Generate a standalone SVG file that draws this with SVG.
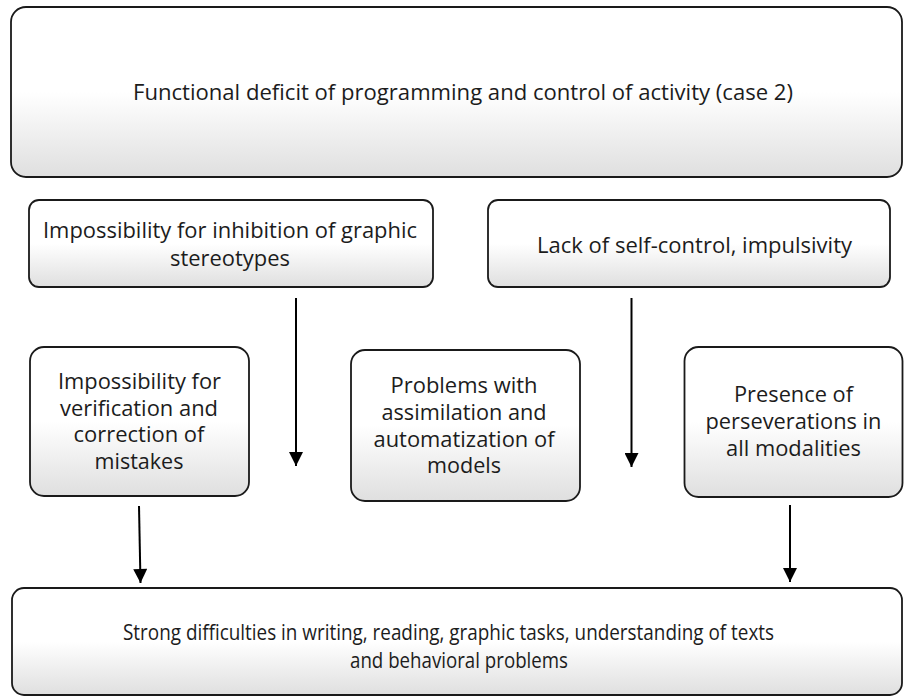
<svg xmlns="http://www.w3.org/2000/svg" width="904" height="698" viewBox="0 0 904 698">
  <defs>
    <linearGradient id="boxFill" x1="0" y1="0" x2="0" y2="1">
      <stop offset="0" stop-color="#ffffff"/>
      <stop offset="0.5" stop-color="#ffffff"/>
      <stop offset="1" stop-color="#dfdfdf"/>
    </linearGradient>
    <marker id="arrowHead" viewBox="0 0 10 10" refX="10" refY="5" markerWidth="15" markerHeight="14" markerUnits="userSpaceOnUse" orient="auto">
      <path d="M0,0 L10,5 L0,10 Z" fill="#000"/>
    </marker>
  </defs>
  <style>
    .box { fill: url(#boxFill); stroke: #1a1a1a; stroke-width: 1.8; }
    .label { font-family: "Open Sans", "Liberation Sans", sans-serif; font-size: 21px; fill: #1c1c1c; }
    .conn { stroke: #000; stroke-width: 2; fill: none; marker-end: url(#arrowHead); }
  </style>
  <rect width="904" height="698" fill="#fff"/>

  <g id="node-functional-deficit">
    <rect class="box" x="11" y="7" width="891" height="170" rx="15"/>
    <text class="label" x="133" y="100" font-size="22" textLength="660" lengthAdjust="spacingAndGlyphs">Functional deficit of programming and control of activity (case 2)</text>
  </g>

  <g id="node-inhibition">
    <rect class="box" x="29" y="200" width="404" height="87" rx="10"/>
    <text class="label" x="43" y="238" textLength="374" lengthAdjust="spacingAndGlyphs">Impossibility for inhibition of graphic</text>
    <text class="label" x="170" y="266" textLength="120" lengthAdjust="spacingAndGlyphs">stereotypes</text>
  </g>

  <g id="node-self-control">
    <rect class="box" x="488" y="200" width="402" height="87" rx="10"/>
    <text class="label" x="537" y="253" textLength="315" lengthAdjust="spacingAndGlyphs">Lack of self-control, impulsivity</text>
  </g>

  <g id="node-verification">
    <rect class="box" x="30" y="347" width="219" height="149" rx="14"/>
    <text class="label" x="58" y="389" textLength="163" lengthAdjust="spacingAndGlyphs">Impossibility for</text>
    <text class="label" x="60" y="415.5" textLength="158" lengthAdjust="spacingAndGlyphs">verification and</text>
    <text class="label" x="73.5" y="442" textLength="131" lengthAdjust="spacingAndGlyphs">correction of</text>
    <text class="label" x="94.5" y="469" textLength="89" lengthAdjust="spacingAndGlyphs">mistakes</text>
  </g>

  <g id="node-assimilation">
    <rect class="box" x="351" y="350" width="229" height="151" rx="14"/>
    <text class="label" x="390.5" y="393" textLength="147" lengthAdjust="spacingAndGlyphs">Problems with</text>
    <text class="label" x="381.5" y="420" textLength="165" lengthAdjust="spacingAndGlyphs">assimilation and</text>
    <text class="label" x="373.5" y="446.5" textLength="181" lengthAdjust="spacingAndGlyphs">automatization of</text>
    <text class="label" x="427" y="473" textLength="74" lengthAdjust="spacingAndGlyphs">models</text>
  </g>

  <g id="node-perseverations">
    <rect class="box" x="684.5" y="347" width="218" height="150" rx="14"/>
    <text class="label" x="734" y="402" textLength="119" lengthAdjust="spacingAndGlyphs">Presence of</text>
    <text class="label" x="705.5" y="429" textLength="176" lengthAdjust="spacingAndGlyphs">perseverations in</text>
    <text class="label" x="726" y="456" textLength="135" lengthAdjust="spacingAndGlyphs">all modalities</text>
  </g>

  <g id="node-difficulties">
    <rect class="box" x="12" y="588" width="890" height="107" rx="12"/>
    <text class="label" x="123" y="640" font-size="20" textLength="651" lengthAdjust="spacingAndGlyphs">Strong difficulties in writing, reading, graphic tasks, understanding of texts</text>
    <text class="label" x="350" y="668" font-size="20" textLength="218" lengthAdjust="spacingAndGlyphs">and behavioral problems</text>
  </g>

  <g id="connectors">
    <line class="conn" x1="296" y1="298" x2="296" y2="466"/>
    <line class="conn" x1="631.5" y1="298" x2="631.5" y2="467"/>
    <line class="conn" x1="139" y1="506" x2="140.5" y2="583"/>
    <line class="conn" x1="790" y1="505" x2="790" y2="582"/>
  </g>
</svg>
